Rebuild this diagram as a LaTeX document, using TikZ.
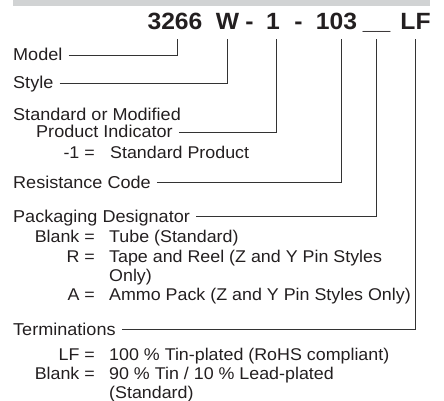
\documentclass[tikz,border=0pt]{standalone}
\usepackage{fontspec}
\setmainfont{Liberation Sans}[FakeStretch=1.05]
\usepackage{tikz}
\usetikzlibrary{positioning}
\definecolor{ink}{HTML}{231F20}
\definecolor{rule}{HTML}{333333}
\definecolor{band}{HTML}{D1D3D4}

\begin{document}
\begin{tikzpicture}[
  x=1pt,y=-1pt,
  code/.style={font=\fontsize{23.5}{26}\selectfont\bfseries,text=ink,
               inner sep=0pt,text depth=0pt,anchor=base},
  field/.style={font=\fontsize{17.2}{19}\selectfont,text=ink,inner sep=0pt,
                text height=12pt,text depth=0pt,anchor=base west},
  key/.style={font=\fontsize{17}{19}\selectfont,text=ink,inner sep=0pt,anchor=base east},
  desc/.style={font=\fontsize{17}{19}\selectfont,text=ink,inner sep=0pt,anchor=base west},
  conn/.style={draw=rule,line width=0.8pt,shorten <=6pt,shorten >=8.5pt}
]
\useasboundingbox (0,0) rectangle (444,401);
\fill[band] (13,0) rectangle (430,5.7);

% part number
\node[code] (c3266) at (175,30)   {3266};
\node[code] (cw)    at (227.5,30) {W};
\node[code] (cdA)   at (249.5,30) {-};
\node[code] (cone)  at (273,30)   {1};
\node[code] (cdB)   at (298.5,30) {-};
\node[code] (c103)  at (336.5,30) {103};
\node[code] (cpkg)  at (376.5,30) {\_\_};
\node[code] (clf)   at (415.5,30) {LF};

% fields
\node[field] (mdl)  at (13,61)  {Model};
\node[field] (sty)  at (13,89)  {Style};
\node[field] (std)  at (13,121) {Standard or Modified};
\node[field] (ind)  at (36,138) {Product Indicator};
\node[key]   (kone) at (95,158) {-1 =};
\node[desc]  (done) at (110,158) {Standard Product};

\node[field] (res)  at (13,188) {Resistance Code};

\node[field] (pkg)  at (13,222) {Packaging Designator};
\node[key]   (kbl)  at (95,242) {Blank =};
\node[desc]  (dbl)  at (109,242) {Tube (Standard)};
\node[key]   (kr)   at (95,262) {R =};
\node[desc]  (dr)   at (109,262) {Tape and Reel (Z and Y Pin Styles};
\node[desc]  (dr2)  at (109,281) {Only)};
\node[key]   (ka)   at (95,300) {A =};
\node[desc]  (da)   at (109,300) {Ammo Pack (Z and Y Pin Styles Only)};

\node[field] (term) at (13,335) {Terminations};
\node[key]   (klf)  at (95,360) {LF =};
\node[desc]  (dlf)  at (109,360) {100 \% Tin-plated (RoHS compliant)};
\node[key]   (kpb)  at (95,379) {Blank =};
\node[desc]  (dpb)  at (109,379) {90 \% Tin / 10 \% Lead-plated};
\node[desc]  (dpb2) at (109,398) {(Standard)};

% leaders
\draw[conn] (mdl.east)  -| ([xshift=2pt]c3266.south);
\draw[conn] (sty.east)  -| (cw.south);
\draw[conn] (ind.east)  -| ([xshift=3pt]cone.south);
\draw[conn] (res.east)  -| ([xshift=4.5pt]c103.south);
\draw[conn] (pkg.east)  -| (cpkg.south);
\draw[conn] (term.east) -| (clf.south);
\end{tikzpicture}
\end{document}
